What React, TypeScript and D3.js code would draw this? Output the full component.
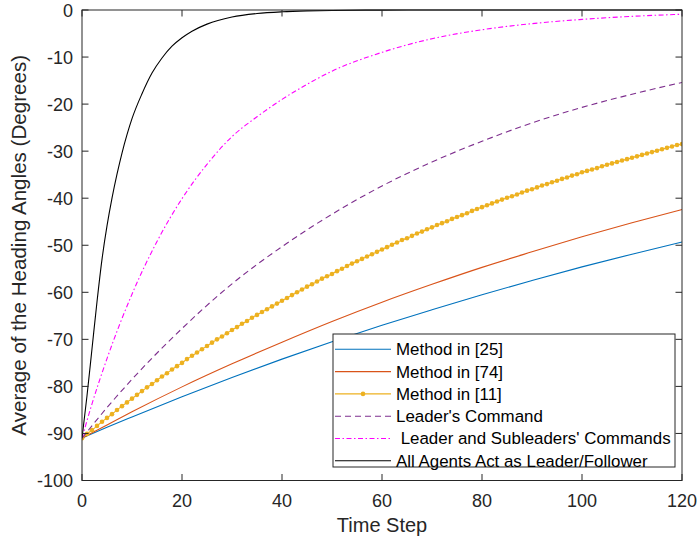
import React from "react";
import * as d3 from "d3";

const WIDTH = 699;
const HEIGHT = 542;
const PLOT = { left: 82, right: 682, top: 10, bottom: 480.5 };

const xTickValues = [0, 20, 40, 60, 80, 100, 120];
const yTickValues = [-100, -90, -80, -70, -60, -50, -40, -30, -20, -10, 0];

// Method in [25]
const method25Steps = [0, 5, 10, 20, 30, 40, 50, 60, 70, 80, 90, 100, 110, 120];
const method25Angles = [-91, -88.7, -86.5, -82.2, -78.1, -74.2, -70.5, -67.0, -63.7, -60.5, -57.5, -54.6, -51.9, -49.3];

// Method in [74]
const method74Steps = [0, 5, 10, 20, 30, 40, 50, 60, 70, 80, 90, 100, 110, 120];
const method74Angles = [-91, -88.2, -85.4, -80.1, -75.2, -70.6, -66.2, -62.1, -58.3, -54.7, -51.4, -48.2, -45.2, -42.4];

// Method in [11], one sample per time step (0..120)
const method11Angles = [
  -91.0, -90.1, -89.3, -88.4, -87.5, -86.7, -85.9, -85.0, -84.2, -83.4,
  -82.6, -81.8, -81.0, -80.2, -79.5, -78.7, -77.9, -77.2, -76.4, -75.7,
  -75.0, -74.2, -73.5, -72.8, -72.1, -71.4, -70.7, -70.0, -69.4, -68.7,
  -68.0, -67.4, -66.7, -66.1, -65.4, -64.8, -64.2, -63.6, -63.0, -62.4,
  -61.8, -61.2, -60.6, -60.0, -59.4, -58.8, -58.3, -57.7, -57.1, -56.6,
  -56.1, -55.5, -55.0, -54.4, -53.9, -53.4, -52.9, -52.4, -51.9, -51.4,
  -50.9, -50.4, -49.9, -49.4, -48.9, -48.5, -48.0, -47.5, -47.1, -46.6,
  -46.2, -45.7, -45.3, -44.9, -44.4, -44.0, -43.6, -43.2, -42.7, -42.3,
  -41.9, -41.5, -41.1, -40.7, -40.3, -39.9, -39.6, -39.2, -38.8, -38.4,
  -38.1, -37.7, -37.3, -37.0, -36.6, -36.3, -35.9, -35.6, -35.2, -34.9,
  -34.5, -34.2, -33.9, -33.6, -33.2, -32.9, -32.6, -32.3, -32.0, -31.7,
  -31.4, -31.1, -30.8, -30.5, -30.2, -29.9, -29.6, -29.3, -29.0, -28.7,
  -28.5,
];

// Leader's Command
const leaderSteps = [0, 5, 10, 20, 30, 40, 50, 60, 70, 80, 90, 100, 110, 120];
const leaderAngles = [-91, -84.5, -78.5, -67.7, -58.2, -50.3, -43.4, -37.4, -32.3, -27.9, -24.0, -20.7, -17.9, -15.4];

// Leader and Subleaders' Commands
const subleaderSteps = [0, 2, 5, 10, 15, 20, 25, 30, 35, 40, 45, 50, 60, 70, 80, 90, 100, 110, 120];
const subleaderAngles = [-91, -83.7, -74.1, -60.4, -49.2, -40.1, -32.8, -26.9, -22.7, -19.0, -15.8, -13.0, -9.0, -6.1, -4.2, -2.9, -2.0, -1.35, -0.9];

// All Agents Act as Leader/Follower
const allAgentsSteps = [0, 1, 2, 3, 4, 5, 6, 7, 8, 9, 10, 12, 14, 16, 18, 20, 22, 25, 30, 35, 40, 45, 50, 60, 70, 80, 90, 100, 110, 120];
const allAgentsAngles = [-91, -82, -72, -62, -53, -45.9, -40.0, -34.9, -30.4, -26.5, -23.1, -17.8, -13.4, -10.2, -7.7, -5.9, -4.5, -3.0, -1.5, -0.75, -0.38, -0.19, -0.1, -0.02, 0, 0, 0, 0, 0, 0];

const legendLabels = [
  "Method in [25]",
  "Method in [74]",
  "Method in [11]",
  "Leader's Command",
  " Leader and Subleaders' Commands",
  "All Agents Act as Leader/Follower",
];

type Series = {
  label: string;
  points: [number, number][];
  color: string;
  width: number;
  dash?: string;
  markers?: boolean;
};

const zip = (xs: number[], ys: number[]): [number, number][] => xs.map((x, i) => [x, ys[i]]);

const series: Series[] = [
  { label: legendLabels[0], points: zip(method25Steps, method25Angles), color: "#0072BD", width: 1.1 },
  { label: legendLabels[1], points: zip(method74Steps, method74Angles), color: "#D95319", width: 1.1 },
  { label: legendLabels[2], points: method11Angles.map((v, i) => [i, v] as [number, number]), color: "#EDB120", width: 1.1, markers: true },
  { label: legendLabels[3], points: zip(leaderSteps, leaderAngles), color: "#7E2F8E", width: 1.1, dash: "6,4" },
  { label: legendLabels[4], points: zip(subleaderSteps, subleaderAngles), color: "#FF00FF", width: 1.1, dash: "5,2.5,1.5,2.5" },
  { label: legendLabels[5], points: zip(allAgentsSteps, allAgentsAngles), color: "#000000", width: 1.1 },
];

const FONT = "'Liberation Sans', Arial, Helvetica, sans-serif";
const AXIS_COLOR = "#262626";

export default function App() {
  const x = d3.scaleLinear().domain([0, 120]).range([PLOT.left, PLOT.right]);
  const y = d3.scaleLinear().domain([-100, 0]).range([PLOT.bottom, PLOT.top]);
  const line = d3
    .line<[number, number]>()
    .x((d) => x(d[0]))
    .y((d) => y(d[1]))
    .curve(d3.curveMonotoneX);

  const tickLen = 6.5;
  const legend = { x: 333, y: 334, w: 342, h: 133, firstRow: 349.3, rowGap: 22.3, lineX0: 335, lineX1: 391, textX: 396 };

  return (
    <svg
      width={WIDTH}
      height={HEIGHT}
      style={{ position: "absolute", left: 0, top: 0, background: "#fff" }}
      fontFamily={FONT}
    >
      <defs>
        <clipPath id="plot-clip">
          <rect x={PLOT.left} y={PLOT.top - 1} width={PLOT.right - PLOT.left} height={PLOT.bottom - PLOT.top + 1} />
        </clipPath>
      </defs>

      <g clipPath="url(#plot-clip)">
        {series.map((s) => (
          <g key={s.label}>
            <path
              d={line(s.points) ?? ""}
              fill="none"
              stroke={s.color}
              strokeWidth={s.width}
              strokeDasharray={s.dash}
            />
            {s.markers &&
              s.points.map((p) => (
                <circle key={p[0]} cx={x(p[0])} cy={y(p[1])} r={2.3} fill={s.color} />
              ))}
          </g>
        ))}
      </g>

      {/* axes box with inward ticks on all four sides */}
      <rect
        x={PLOT.left}
        y={PLOT.top}
        width={PLOT.right - PLOT.left}
        height={PLOT.bottom - PLOT.top}
        fill="none"
        stroke={AXIS_COLOR}
        strokeWidth={1}
      />
      {xTickValues.map((t) => (
        <g key={"xt" + t}>
          <line x1={x(t)} x2={x(t)} y1={PLOT.bottom} y2={PLOT.bottom - tickLen} stroke={AXIS_COLOR} />
          <line x1={x(t)} x2={x(t)} y1={PLOT.top} y2={PLOT.top + tickLen} stroke={AXIS_COLOR} />
          <text x={x(t)} y={PLOT.bottom + 26} textAnchor="middle" fontSize={18} fill={AXIS_COLOR}>
            {t}
          </text>
        </g>
      ))}
      {yTickValues.map((t) => (
        <g key={"yt" + t}>
          <line x1={PLOT.left} x2={PLOT.left + tickLen} y1={y(t)} y2={y(t)} stroke={AXIS_COLOR} />
          <line x1={PLOT.right} x2={PLOT.right - tickLen} y1={y(t)} y2={y(t)} stroke={AXIS_COLOR} />
          <text x={PLOT.left - 9} y={y(t) + 6.5} textAnchor="end" fontSize={18} fill={AXIS_COLOR}>
            {t}
          </text>
        </g>
      ))}

      <text x={(PLOT.left + PLOT.right) / 2} y={532} textAnchor="middle" fontSize={20} fill={AXIS_COLOR}>
        Time Step
      </text>
      <text
        transform={`translate(26,${(PLOT.top + PLOT.bottom) / 2}) rotate(-90)`}
        textAnchor="middle"
        fontSize={20.6}
        fill={AXIS_COLOR}
      >
        Average of the Heading Angles (Degrees)
      </text>

      {/* legend */}
      <rect x={legend.x} y={legend.y} width={legend.w} height={legend.h} fill="#fff" stroke={AXIS_COLOR} strokeWidth={1} />
      {series.map((s, i) => {
        const ly = legend.firstRow + i * legend.rowGap;
        return (
          <g key={"lg" + i}>
            <line
              x1={legend.lineX0}
              x2={legend.lineX1}
              y1={ly}
              y2={ly}
              stroke={s.color}
              strokeWidth={s.width}
              strokeDasharray={s.dash}
            />
            {s.markers && <circle cx={(legend.lineX0 + legend.lineX1) / 2} cy={ly} r={2.3} fill={s.color} />}
            <text x={legend.textX} y={ly + 5.9} fontSize={16.9} fill="#000" style={{ whiteSpace: "pre" }}>
              {s.label}
            </text>
          </g>
        );
      })}
    </svg>
  );
}
